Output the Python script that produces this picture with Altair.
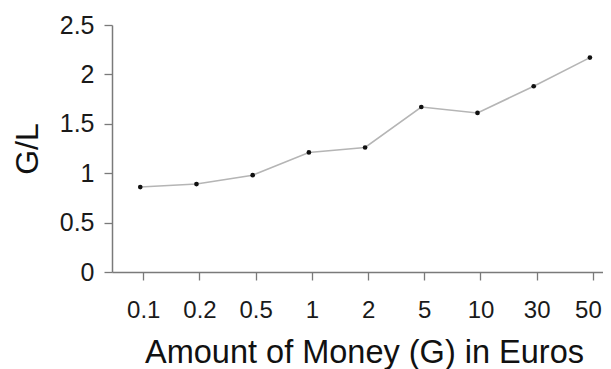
import altair as alt
import pandas as pd

amounts = ["0.1", "0.2", "0.5", "1", "2", "5", "10", "30", "50"]
ratios = [0.86, 0.89, 0.98, 1.21, 1.26, 1.67, 1.61, 1.88, 2.17]

df = pd.DataFrame({"amount": amounts, "ratio": ratios})

FONT = "Liberation Sans"

x = alt.X(
    "amount:N",
    sort=None,
    scale=alt.Scale(type="point", padding=0.368, align=0.756),
    axis=alt.Axis(
        title="Amount of Money (G) in Euros",
        labelAngle=0,
        labelFontSize=24,
        labelPadding=18,
        labelOffset={"condition": {"test": "datum.label == '50'", "value": -5}, "value": 0},
        tickSize=8,
        titleFontSize=32.5,
        titleFontWeight="normal",
        titleBaseline="alphabetic",
        titleY=90,
        titleX=252,
    ),
)
y = alt.Y(
    "ratio:Q",
    scale=alt.Scale(domain=[0, 2.5], nice=False),
    axis=alt.Axis(
        title="G/L",
        values=[0, 0.5, 1, 1.5, 2, 2.5],
        labelExpr="datum.value == 0 ? '0' : format(datum.value, '~g')",
        labelFontSize=25,
        labelPadding=10,
        tickSize=8,
        titleFontSize=32,
        titleFontWeight="normal",
        titleBaseline="alphabetic",
        titleX=-75,
        grid=False,
    ),
)

base = alt.Chart(df).encode(x=x, y=y)
line = base.mark_line(color="#b5b5b5", strokeWidth=1.6, xOffset=-3)
pts = base.mark_circle(color="#111111", size=22, opacity=1, xOffset=-3)

chart = (
    (line + pts)
    .properties(
        width=491,
        height=247,
        autosize=alt.AutoSizeParams(type="none"),
        padding={"left": 104, "top": 17, "right": 0, "bottom": 97},
    )
    .configure_view(stroke=None)
    .configure_axis(
        grid=False,
        labelFont=FONT,
        titleFont=FONT,
        labelColor="#1a1a1a",
        titleColor="#111111",
        domainColor="#7a7a7a",
        tickColor="#7a7a7a",
        domainWidth=1.5,
        tickWidth=1.3,
    )
)

chart.save("out.html", embed_options={"renderer": "svg", "actions": False})
